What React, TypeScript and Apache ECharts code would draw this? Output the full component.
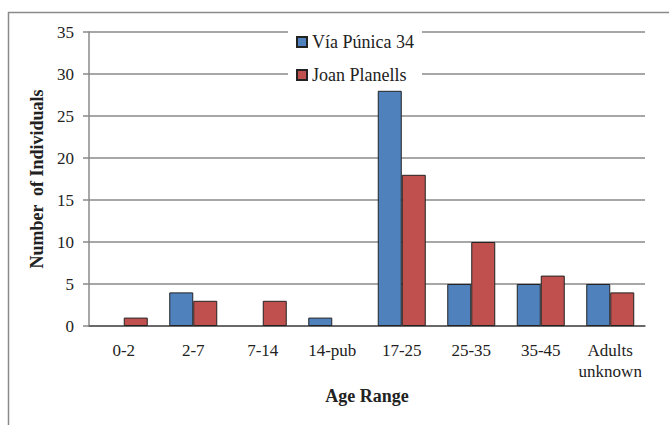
import React, { useEffect, useRef } from "react";
import * as echarts from "echarts";

const categories = ["0-2", "2-7", "7-14", "14-pub", "17-25", "25-35", "35-45", "Adults\nunknown"];
const viaPunica = [0, 4, 0, 1, 28, 5, 5, 5];
const joanPlanells = [1, 3, 3, 0, 18, 10, 6, 4];
const seriesNames = ["Vía Púnica 34", "Joan Planells"];
const yTicks = { min: 0, max: 35, interval: 5 };

const FONT = "Liberation Serif";

export default function App() {
  const ref = useRef<HTMLDivElement>(null);
  useEffect(() => {
    if (!ref.current) return;
    const chart = echarts.init(ref.current, undefined, { renderer: "svg" });
    const toData = (arr: number[]) => arr.map((v) => (v === 0 ? "-" : v));
    chart.setOption({
      animation: false,
      backgroundColor: "#fff",
      textStyle: { fontFamily: FONT },
      graphic: [
        {
          type: "rect",
          shape: { x: 8.5, y: 12.5, width: 700, height: 500 },
          style: { fill: "none", stroke: "#8a8a8a", lineWidth: 1.5 },
          silent: true,
          z: -1,
        },
      ],
      grid: { left: 89, right: 24, top: 32, bottom: 99, containLabel: false },
      legend: {
        orient: "vertical",
        left: 288,
        top: 25,
        padding: [8, 8, 4, 8],
        itemGap: 15,
        itemWidth: 10,
        itemHeight: 10,
        itemTextGap: 2,
        backgroundColor: "#fff",
        icon: "rect",
        textStyle: { fontFamily: FONT, fontSize: 18, color: "#222", lineHeight: 18 },
        data: seriesNames,
      },
      xAxis: {
        type: "category",
        data: categories,
        axisTick: { show: false },
        axisLine: { lineStyle: { color: "#555", width: 1.5 } },
        axisLabel: {
          fontFamily: FONT,
          fontSize: 17,
          color: "#222",
          margin: 14,
          lineHeight: 21,
          interval: 0,
        },
        name: "Age Range",
        nameLocation: "middle",
        nameGap: 61,
        nameTextStyle: { fontFamily: FONT, fontSize: 18, fontWeight: "bold", color: "#222" },
      },
      yAxis: {
        type: "value",
        min: yTicks.min,
        max: yTicks.max,
        interval: yTicks.interval,
        axisLine: { show: true, lineStyle: { color: "#8a8a8a", width: 1.5 } },
        axisTick: { show: true, length: 6, lineStyle: { color: "#8a8a8a", width: 1.5 } },
        splitLine: { lineStyle: { color: "#8a8a8a", width: 1.5 } },
        axisLabel: { fontFamily: FONT, fontSize: 17, color: "#222", margin: 15 },
        name: "Number  of Individuals",
        nameLocation: "middle",
        nameRotate: 90,
        nameGap: 42,
        nameTextStyle: { fontFamily: FONT, fontSize: 18, fontWeight: "bold", color: "#222" },
      },
      series: [
        {
          name: seriesNames[0],
          type: "bar",
          data: toData(viaPunica),
          barWidth: 24,
          barGap: "0%",
          itemStyle: { color: "#4F81BD", borderColor: "#222", borderWidth: 1 },
        },
        {
          name: seriesNames[1],
          type: "bar",
          data: toData(joanPlanells),
          barWidth: 24,
          barGap: "0%",
          itemStyle: { color: "#C0504D", borderColor: "#222", borderWidth: 1 },
        },
      ],
    });
    return () => chart.dispose();
  }, []);
  return (
    <div
      ref={ref}
      style={{ position: "fixed", left: 0, top: 0, width: 669, height: 425 }}
    />
  );
}
